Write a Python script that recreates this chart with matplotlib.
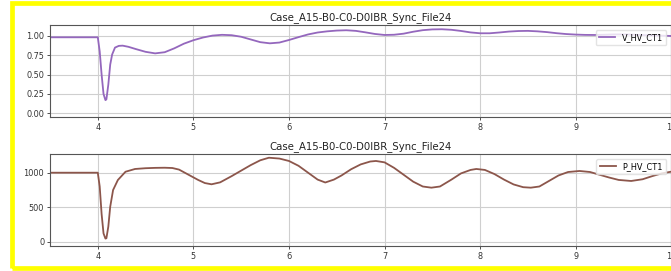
import matplotlib
matplotlib.use("Agg")
import matplotlib.pyplot as plt
from matplotlib.patches import Rectangle

title = "Case_A15-B0-C0-D0IBR_Sync_File24"

t_v = [3.0, 3.5, 4.00, 4.02, 4.04, 4.06, 4.08, 4.09, 4.11, 4.13, 4.15, 4.18, 4.22, 4.26,
       4.32, 4.40, 4.50, 4.60, 4.70, 4.80, 4.90, 5.00, 5.10, 5.20, 5.30, 5.40, 5.50,
       5.60, 5.70, 5.80, 5.90, 6.00, 6.10, 6.20, 6.30, 6.40, 6.50, 6.60, 6.70, 6.80,
       6.90, 7.00, 7.10, 7.20, 7.30, 7.40, 7.50, 7.60, 7.70, 7.80, 7.90, 8.00, 8.10,
       8.20, 8.30, 8.40, 8.50, 8.60, 8.70, 8.80, 8.90, 9.00, 9.10, 9.20, 9.30, 9.40,
       9.50, 9.60, 9.70, 9.80, 9.90, 10.0]
v_hv = [0.983, 0.983, 0.983, 0.80, 0.50, 0.25, 0.17, 0.18, 0.37, 0.63, 0.76, 0.85, 0.872, 0.875,
        0.86, 0.83, 0.795, 0.775, 0.79, 0.84, 0.90, 0.945, 0.98, 1.005, 1.015, 1.01, 0.99,
        0.955, 0.92, 0.905, 0.915, 0.948, 0.985, 1.02, 1.045, 1.06, 1.07, 1.074, 1.066, 1.047,
        1.026, 1.013, 1.016, 1.03, 1.055, 1.075, 1.085, 1.087, 1.08, 1.065, 1.046, 1.035, 1.035,
        1.045, 1.057, 1.064, 1.066, 1.06, 1.05, 1.036, 1.025, 1.018, 1.014, 1.013, 1.016, 1.02,
        1.02, 1.017, 1.012, 1.008, 1.004, 1.0]

t_p = [3.0, 3.5, 4.00, 4.02, 4.04, 4.06, 4.08, 4.09, 4.11, 4.13, 4.16, 4.21, 4.29, 4.39,
       4.50, 4.60, 4.70, 4.78, 4.85, 4.95, 5.05, 5.12, 5.19, 5.28, 5.40, 5.50, 5.60,
       5.70, 5.79, 5.90, 6.00, 6.10, 6.20, 6.30, 6.38, 6.47, 6.55, 6.65, 6.75, 6.85,
       6.91, 7.00, 7.10, 7.20, 7.30, 7.40, 7.49, 7.58, 7.70, 7.80, 7.90, 7.96, 8.05,
       8.15, 8.25, 8.35, 8.45, 8.53, 8.62, 8.72, 8.82, 8.92, 9.04, 9.15, 9.25, 9.35,
       9.45, 9.58, 9.70, 9.80, 9.90, 10.0]
p_hv = [1000, 1000, 1000, 800, 400, 120, 45, 50, 217, 507, 749, 894, 1014, 1054,
        1065, 1070, 1072, 1068, 1045, 970, 895, 850, 832, 860, 950, 1030, 1110,
        1180, 1217, 1205, 1170, 1100, 1000, 900, 858, 900, 960, 1050, 1120, 1162,
        1170, 1150, 1070, 970, 870, 800, 783, 800, 900, 990, 1040, 1054, 1040,
        980, 900, 830, 790, 783, 800, 880, 960, 1010, 1025, 1010, 970, 930,
        895, 880, 905, 950, 990, 1015]

W, H = 671, 271
fig = plt.figure(figsize=(W / 100, H / 100), dpi=100)
fs = 5.9

def style(ax, ylim, yticks, yticklabels):
    ax.set_xlim(3.5, 10.0)
    ax.set_ylim(*ylim)
    ax.set_yticks(yticks)
    ax.set_yticklabels(yticklabels)
    ax.set_xticks([4, 5, 6, 7, 8, 9, 10])
    ax.grid(True, color="#cfcfcf", lw=0.8)
    ax.set_axisbelow(True)
    ax.tick_params(labelsize=fs, length=2.2, width=0.6, pad=2, colors="#333333")
    for s in ax.spines.values():
        s.set_color("#555555")
        s.set_linewidth(0.8)
    ax.set_title(title, fontsize=7.3, pad=3.5, color="#222222")

ax1 = fig.add_axes([50 / W, 1 - 117 / H, 621.3 / W, 92 / H])
ax1.plot(t_v, v_hv, color="#9467bd", lw=1.3, label="V_HV_CT1")
style(ax1, (-0.048, 1.142), [0, 0.25, 0.5, 0.75, 1.0], ["0.00", "0.25", "0.50", "0.75", "1.00"])
ax1.legend(loc="upper right", fontsize=fs, handlelength=2.0, borderaxespad=0.6,
           frameon=True, fancybox=True, framealpha=0.8, edgecolor="#dddddd")

ax2 = fig.add_axes([50 / W, 1 - 245.7 / H, 621.3 / W, 91.7 / H])
ax2.plot(t_p, p_hv, color="#8c564b", lw=1.3, label="P_HV_CT1")
style(ax2, (-58, 1271), [0, 500, 1000], ["0", "500", "1000"])
ax2.legend(loc="upper right", fontsize=fs, handlelength=2.0, borderaxespad=0.6,
           frameon=True, fancybox=True, framealpha=0.8, edgecolor="#dddddd")

rect = Rectangle((12 / W, 3.5 / H), 1.2, (267.5 - 3.0) / H, transform=fig.transFigure,
                 fill=False, edgecolor="#ffff00", lw=3.4, clip_on=False)
fig.add_artist(rect)

fig.savefig("out.png", dpi=100)
